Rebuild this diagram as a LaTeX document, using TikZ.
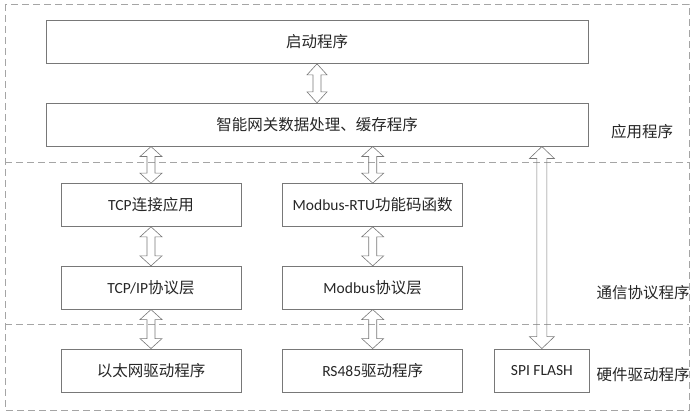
\documentclass[tikz,border=0pt]{standalone}
\usepackage{fontspec}
\setmainfont{Noto Sans CJK SC}
\newfontfamily\latfont{Carlito}
\newcommand\lat[1]{{\latfont #1}}
\usepackage{tikz}
\usetikzlibrary{positioning,calc}
\definecolor{framegray}{RGB}{165,165,165}
\definecolor{boxgray}{RGB}{120,120,120}
\definecolor{textgray}{RGB}{38,38,38}
\tikzset{
      box/.style   = {draw=boxgray, line width=0.7pt, minimum height=43pt, inner sep=0pt,
                      text=textgray, font=\fontsize{15.5pt}{18pt}\selectfont},
      layer/.style = {draw=framegray, line width=0.8pt, dash pattern=on 7pt off 4pt},
      tag/.style   = {text=textgray, inner sep=0pt, font=\fontsize{15.5pt}{18pt}\selectfont},
      arrowline/.style = {draw=boxgray, line width=0.6pt, line join=miter},
    }
% hollow double arrow: from, to, half head width, half shaft width, head length
\newcommand\dualarrow[5]{%
  \draw[arrowline] let \p1=#1, \p2=#2 in
    (\x1,\y1) -- (\x1+#3,\y1-#5) -- (\x1+#4,\y1-#5) -- (\x1+#4,\y2+#5)
    -- (\x1+#3,\y2+#5) -- (\x1,\y2) -- (\x1-#3,\y2+#5) -- (\x1-#4,\y2+#5)
    -- (\x1-#4,\y1-#5) -- (\x1-#3,\y1-#5) -- cycle;}

\begin{document}
\begin{tikzpicture}[x=1pt, y=-1pt]
    \useasboundingbox (0,0) rectangle (695,414);

    % layers
    \draw[layer] (5,4) rectangle (689,410);
    \draw[layer] (5,162) -- (689,162);
    \draw[layer] (5,324) -- (689,324);

    \node[box, minimum width=542pt] (start) at (317,42) {启动程序};
    \node[box, minimum width=542pt, below=39pt of start] (smart) {智能网关数据处理、缓存程序};

    \node[box, minimum width=180pt] (tcpapp) at (151,205) {\lat{TCP}连接应用};
    \node[box, minimum width=180pt, below=39pt of tcpapp] (tcpip) {\lat{TCP/IP}协议层};
    \node[box, minimum width=180pt, below=39pt of tcpip] (eth) {以太网驱动程序};

    \node[box, minimum width=180pt, right=41pt of tcpapp] (rtu) {\lat{Modbus-RTU}功能码函数};
    \node[box, minimum width=180pt, right=41pt of tcpip] (modbus) {\lat{Modbus}协议层};
    \node[box, minimum width=180pt, right=41pt of eth] (rs485) {\lat{RS485}驱动程序};

    \node[box, minimum width=95pt, right=31pt of rs485] (spi) {\lat{SPI FLASH}};

    \node[tag] (app) at (642,132) {应用程序};
    \node[tag] (comm) at (643,293) {通信协议程序};
    \node[tag] (hw) at (643,375) {硬件驱动程序};

    \dualarrow{(start.south)}{(smart.north)}{10pt}{4pt}{11pt}
    \dualarrow{(tcpapp.north |- smart.south)}{(tcpapp.north)}{11pt}{4pt}{10pt}
    \dualarrow{(rtu.north |- smart.south)}{(rtu.north)}{11pt}{4pt}{10pt}
    \dualarrow{(tcpapp.south)}{(tcpip.north)}{11pt}{4pt}{10pt}
    \dualarrow{(rtu.south)}{(modbus.north)}{11pt}{4pt}{10pt}
    \dualarrow{(tcpip.south)}{(eth.north)}{11pt}{4pt}{10pt}
    \dualarrow{(modbus.south)}{(rs485.north)}{11pt}{4pt}{10pt}
    \dualarrow{(spi.north |- smart.south)}{(spi.north)}{12.5pt}{5pt}{12pt}
\end{tikzpicture}
\end{document}
